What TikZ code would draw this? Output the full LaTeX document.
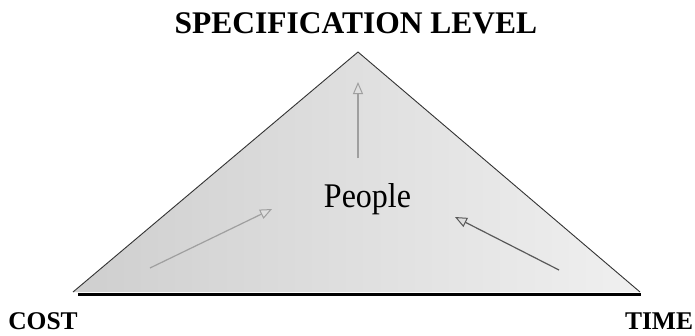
\documentclass[tikz,border=0pt]{standalone}
\usepackage{fontspec}
\setmainfont{Liberation Serif}
\usetikzlibrary{arrows.meta}
\begin{document}
\begin{tikzpicture}[x=1pt,y=-1pt,
  lbl/.style={font=\bfseries\fontsize{25.5}{25.5}\selectfont, inner sep=0pt, anchor=base},
  arr/.style={line width=1.2pt, draw=gray!75, -{Triangle[open, length=12pt, width=10pt, line width=1pt, fill=gray!25]}}]
\useasboundingbox (0,0) rectangle (695,335);
\coordinate (apex) at (358,52);
\coordinate (L) at (73,292);
\coordinate (R) at (640,292);
\shade[left color=gray!38, right color=gray!12] (L) -- (apex) -- (R) -- cycle;
\draw[line width=0.9pt, draw=black!80] (L) -- (apex) -- (R);
\coordinate (bl) at (78,294.5);
\coordinate (br) at (641,294.5);
\draw[line width=3pt] (bl) -- (br);
\node[font=\bfseries\fontsize{31.5}{31.5}\selectfont, inner sep=0pt] (title) at (356,23) {SPECIFICATION LEVEL};
\node[lbl] (cost) at (43,329) {COST};
\node[lbl] (time) at (659,329) {TIME};
\node[font=\fontsize{32}{32}\selectfont, inner sep=0pt, anchor=base] (people) at (367.5,207) {\scalebox{1}[1.08]{People}};
\coordinate (v0) at (358,158);
\coordinate (v1) at (358,82);
\draw[arr] (v0) -- (v1);
\coordinate (l0) at (150,268);
\coordinate (l1) at (272,209);
\draw[arr] (l0) -- (l1);
\coordinate (r0) at (559,270);
\coordinate (r1) at (455,217);
\draw[arr, draw=black!65] (r0) -- (r1);
\end{tikzpicture}
\end{document}
